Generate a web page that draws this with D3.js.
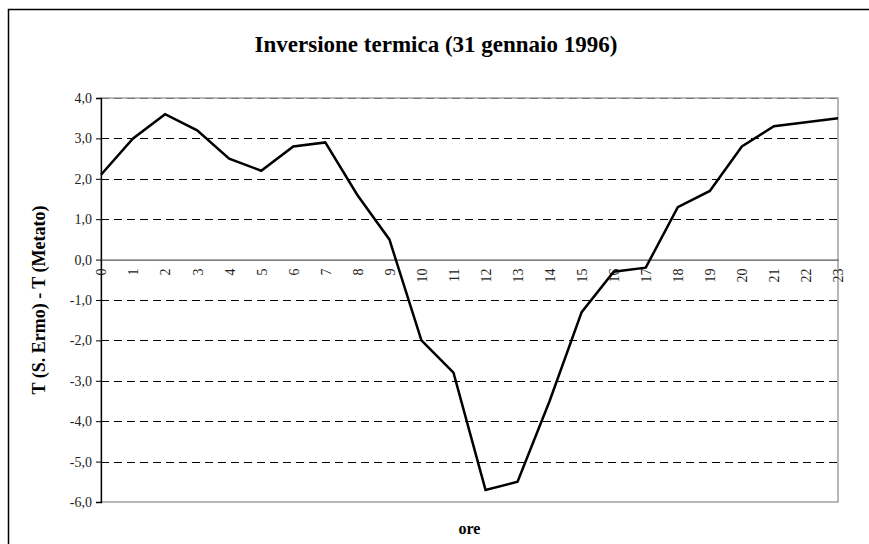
<!DOCTYPE html>
<html>
<head>
<meta charset="utf-8">
<script src="https://cdn.jsdelivr.net/npm/d3@7"></script>
<style>
  body { margin: 0; background: #fff; }
  text { font-family: "Liberation Serif", "Times New Roman", serif; }
</style>
</head>
<body>
<div id="chart"></div>
<script>
// 1. DATA
// ======================================
var hours = d3.range(0, 24);
var hourLabels = hours.map(d => String(d));
var tempDiff = [2.1, 3.0, 3.6, 3.2, 2.5, 2.2, 2.8, 2.9, 1.6, 0.5, -2.0, -2.8,
  -5.7, -5.5, -3.5, -1.3, -0.3, -0.2, 1.3, 1.7, 2.8, 3.3, 3.4, 3.5];
var yTicks = [4, 3, 2, 1, 0, -1, -2, -3, -4, -5, -6];

var chartTitle = "Inversione termica (31 gennaio 1996)";
var xTitle = "ore";
var yTitle = "T (S. Ermo) - T (Metato)";

// 2. SET UP SVG
// ======================================
var svgWidth = 869;
var svgHeight = 544;

var plot = { left: 101, right: 838, top: 98, bottom: 502 };

var svg = d3.select("#chart")
  .append("svg")
  .attr("width", svgWidth)
  .attr("height", svgHeight);

// outer frame (runs off the right and bottom edges)
svg.append("rect")
  .attr("x", 8.5)
  .attr("y", 9.5)
  .attr("width", 1000)
  .attr("height", 1000)
  .attr("fill", "none")
  .attr("stroke", "#000")
  .attr("stroke-width", 1.5);

// 3. SCALES
// ======================================
var xScale = d3.scalePoint()
  .domain(hours)
  .range([plot.left, plot.right]);

var yScale = d3.scaleLinear()
  .domain([-6, 4])
  .range([plot.bottom, plot.top]);

// 4. PLOT AREA & GRID
// ======================================
svg.append("rect")
  .attr("x", plot.left)
  .attr("y", plot.top)
  .attr("width", plot.right - plot.left)
  .attr("height", plot.bottom - plot.top)
  .attr("fill", "none")
  .attr("stroke", "#a0a0a0")
  .attr("stroke-width", 1.5);

svg.append("g").selectAll("line")
  .data(yTicks.filter(d => d !== 0 && d !== -6))
  .enter()
  .append("line")
  .attr("x1", plot.left)
  .attr("x2", plot.right)
  .attr("y1", d => Math.round(yScale(d)) + 0.5)
  .attr("y2", d => Math.round(yScale(d)) + 0.5)
  .attr("stroke", d => d === 4 ? "#777" : "#000")
  .attr("stroke-width", 1)
  .attr("stroke-dasharray", "8,5");

// 5. AXES
// ======================================
var leftAxis = d3.axisLeft(yScale)
  .tickValues(yTicks)
  .tickSize(5)
  .tickPadding(4)
  .tickFormat(d => d3.format(".1f")(d).replace("\u2212", "-").replace(".", ","));

var yAxis = svg.append("g")
  .attr("transform", `translate(${plot.left}, 0)`)
  .call(leftAxis);

yAxis.attr("font-family", null);
yAxis.select(".domain").attr("stroke", "#000").attr("stroke-width", 1.3);
yAxis.selectAll(".tick line").attr("stroke", "#000");
yAxis.selectAll("text")
  .style("font-size", "14px")
  .attr("fill", "#222");

// x axis crosses at 0
var bottomAxis = d3.axisBottom(xScale)
  .tickSize(0)
  .tickFormat((d, i) => hourLabels[i]);

var xAxis = svg.append("g")
  .attr("transform", `translate(0, ${yScale(0)})`)
  .call(bottomAxis);

xAxis.attr("font-family", null);
xAxis.select(".domain").attr("stroke", "#555").attr("stroke-width", 1.3);
xAxis.selectAll("text")
  .attr("transform", "rotate(-90)")
  .attr("text-anchor", "end")
  .attr("x", -9)
  .attr("y", 0)
  .attr("dy", "0.35em")
  .style("font-size", "14px")
  .attr("fill", "#222");

// 6. LINE
// ======================================
var line = d3.line()
  .x((d, i) => xScale(hours[i]))
  .y(d => yScale(d));

svg.append("path")
  .datum(tempDiff)
  .attr("d", line)
  .attr("fill", "none")
  .attr("stroke", "#000")
  .attr("stroke-width", 2.5)
  .attr("stroke-linejoin", "miter");

// 7. TITLES
// ======================================
svg.append("text")
  .attr("x", 436)
  .attr("y", 52)
  .attr("text-anchor", "middle")
  .style("font-size", "23px")
  .style("font-weight", "bold")
  .text(chartTitle);

svg.append("text")
  .attr("x", (plot.left + plot.right) / 2)
  .attr("y", 534)
  .attr("text-anchor", "middle")
  .style("font-size", "16px")
  .style("font-weight", "bold")
  .text(xTitle);

svg.append("text")
  .attr("transform", `translate(45, ${(plot.top + plot.bottom) / 2}) rotate(-90)`)
  .attr("text-anchor", "middle")
  .style("font-size", "18px")
  .style("font-weight", "bold")
  .text(yTitle);
</script>
</body>
</html>
